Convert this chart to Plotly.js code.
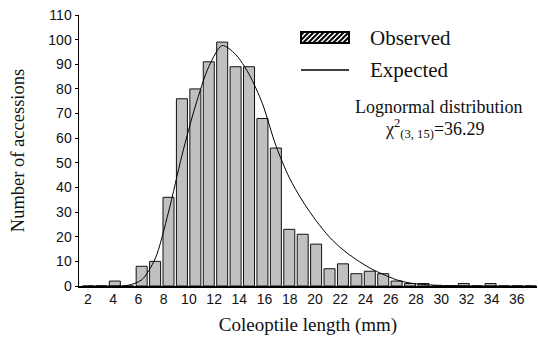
<!DOCTYPE html>
<html>
<head>
<meta charset="utf-8">
<script src="https://cdn.plot.ly/plotly-3.0.1.min.js"></script>
<style>html,body{margin:0;padding:0;background:#fff;}#chart{width:538px;height:345px;}</style>
</head>
<body>
<div id="chart"></div>
<script>
// ---- data ----
const lengthMM = [2,3,4,5,6,7,8,9,10,11,12,13,14,15,16,17,18,19,20,21,22,23,24,25,26,27,28,29,30,31,32,33,34,35];
const observed = [0,0,2,0,8,10,36,76,80,91,99,89,89,68,56,23,21,17,7,9,5,6,5,2,1,1,0,0,1,0,1,0,0,0];
const expected = [0,0,0,0.3,2.5,11,30,53,73,89,97.6,94,86,74,57,44,34.4,26.5,19.8,14.7,10.7,7.3,4.7,2.5,1.2,0.6,0.3,0.15,0.1,0,0,0,0,0];
const xTickLabels = ['2','4','6','8','10','12','14','16','18','20','22','24','26','28','30','32','34','36'];
const yTickValues = [0,10,20,30,40,50,60,70,80,90,100,110];
const legendLabels = ['Observed','Expected'];
const noteLines = ['Lognormal distribution','χ<sup>2</sup><sub>(3, 15)</sub>=36.29'];

// ---- layout helpers ----
const W = 538, H = 345;
const M = {l: 79, r: 1, t: 15, b: 59};
const pw = W - M.l - M.r, ph = H - M.t - M.b;
const px = v => (v - M.l) / pw;
const py = v => (H - M.b - v) / ph;
const LABEL_STEP = 1.88; // the printed labels are slightly compressed relative to the bars
const xTickPos = xTickLabels.map((t, k) => lengthMM[0] + k * LABEL_STEP);

const serif = 'Liberation Serif, Times New Roman, serif';
const sans = 'Liberation Sans, Arial, sans-serif';

const traces = [
  {type: 'bar', x: lengthMM, y: observed, width: 0.82,
   marker: {color: '#c0c0c0', line: {color: '#111', width: 1}}, showlegend: false, hoverinfo: 'skip'},
  {type: 'scatter', mode: 'lines', x: lengthMM, y: expected,
   line: {color: '#000', width: 1, shape: 'spline', smoothing: 0.8}, showlegend: false, hoverinfo: 'skip'}
];

// hatched legend box
const bx0 = 301, bx1 = 349, by0 = 32, by1 = 43;
let hatch = '';
for (let s = bx0 - 8; s < bx1; s += 5) {
  const xa = Math.max(s, bx0), ya = by1 - (xa - s);
  const xb = Math.min(s + (by1 - by0), bx1), yb = by1 - (xb - s);
  if (xb > xa) hatch += `M${px(xa)},${py(ya)} L${px(xb)},${py(yb)} `;
}

const layout = {
  width: W, height: H,
  margin: M,
  paper_bgcolor: '#fff', plot_bgcolor: '#fff',
  showlegend: false,
  bargap: 0,
  xaxis: {
    range: [1.33, 35.46], showgrid: false, zeroline: false,
    showline: true, linecolor: '#000', linewidth: 1.5,
    tickmode: 'array', tickvals: xTickPos, ticktext: xTickLabels,
    ticks: '', tickfont: {family: sans, size: 14, color: '#111'},
    title: {text: 'Coleoptile length (mm)', font: {family: serif, size: 19, color: '#111'}, standoff: 11}
  },
  yaxis: {
    range: [0, 110], showgrid: false, zeroline: false,
    showline: true, linecolor: '#000', linewidth: 1.5,
    tickmode: 'array', tickvals: yTickValues, ticktext: yTickValues.map(String),
    ticks: 'outside', ticklen: 3, tickwidth: 1, tickcolor: '#000',
    tickfont: {family: sans, size: 14, color: '#111'},
    title: {text: 'Number of accessions', font: {family: serif, size: 18.5, color: '#111'}, standoff: 19}
  },
  shapes: [
    {type: 'rect', xref: 'paper', yref: 'paper', x0: px(bx0), x1: px(bx1), y0: py(by1), y1: py(by0),
     line: {color: '#000', width: 2}, fillcolor: '#fff'},
    {type: 'path', xref: 'paper', yref: 'paper', path: hatch, line: {color: '#000', width: 2}},
    {type: 'line', xref: 'paper', yref: 'paper', x0: px(301), x1: px(349), y0: py(70), y1: py(70),
     line: {color: '#000', width: 1.5}}
  ],
  annotations: [
    {xref: 'paper', yref: 'paper', x: px(368), y: py(38), xanchor: 'left', yanchor: 'middle', showarrow: false,
     text: legendLabels[0], font: {family: serif, size: 21, color: '#111'}},
    {xref: 'paper', yref: 'paper', x: px(368), y: py(70), xanchor: 'left', yanchor: 'middle', showarrow: false,
     text: legendLabels[1], font: {family: serif, size: 21, color: '#111'}},
    {xref: 'paper', yref: 'paper', x: px(438), y: py(107), xanchor: 'center', yanchor: 'middle', showarrow: false,
     text: noteLines[0], font: {family: serif, size: 18, color: '#111'}},
    {xref: 'paper', yref: 'paper', x: px(487), y: py(128), xanchor: 'right', yanchor: 'middle', showarrow: false,
     text: noteLines[1], font: {family: serif, size: 18, color: '#111'}}
  ]
};

Plotly.newPlot('chart', traces, layout, {staticPlot: true, displayModeBar: false});
</script>
</body>
</html>
